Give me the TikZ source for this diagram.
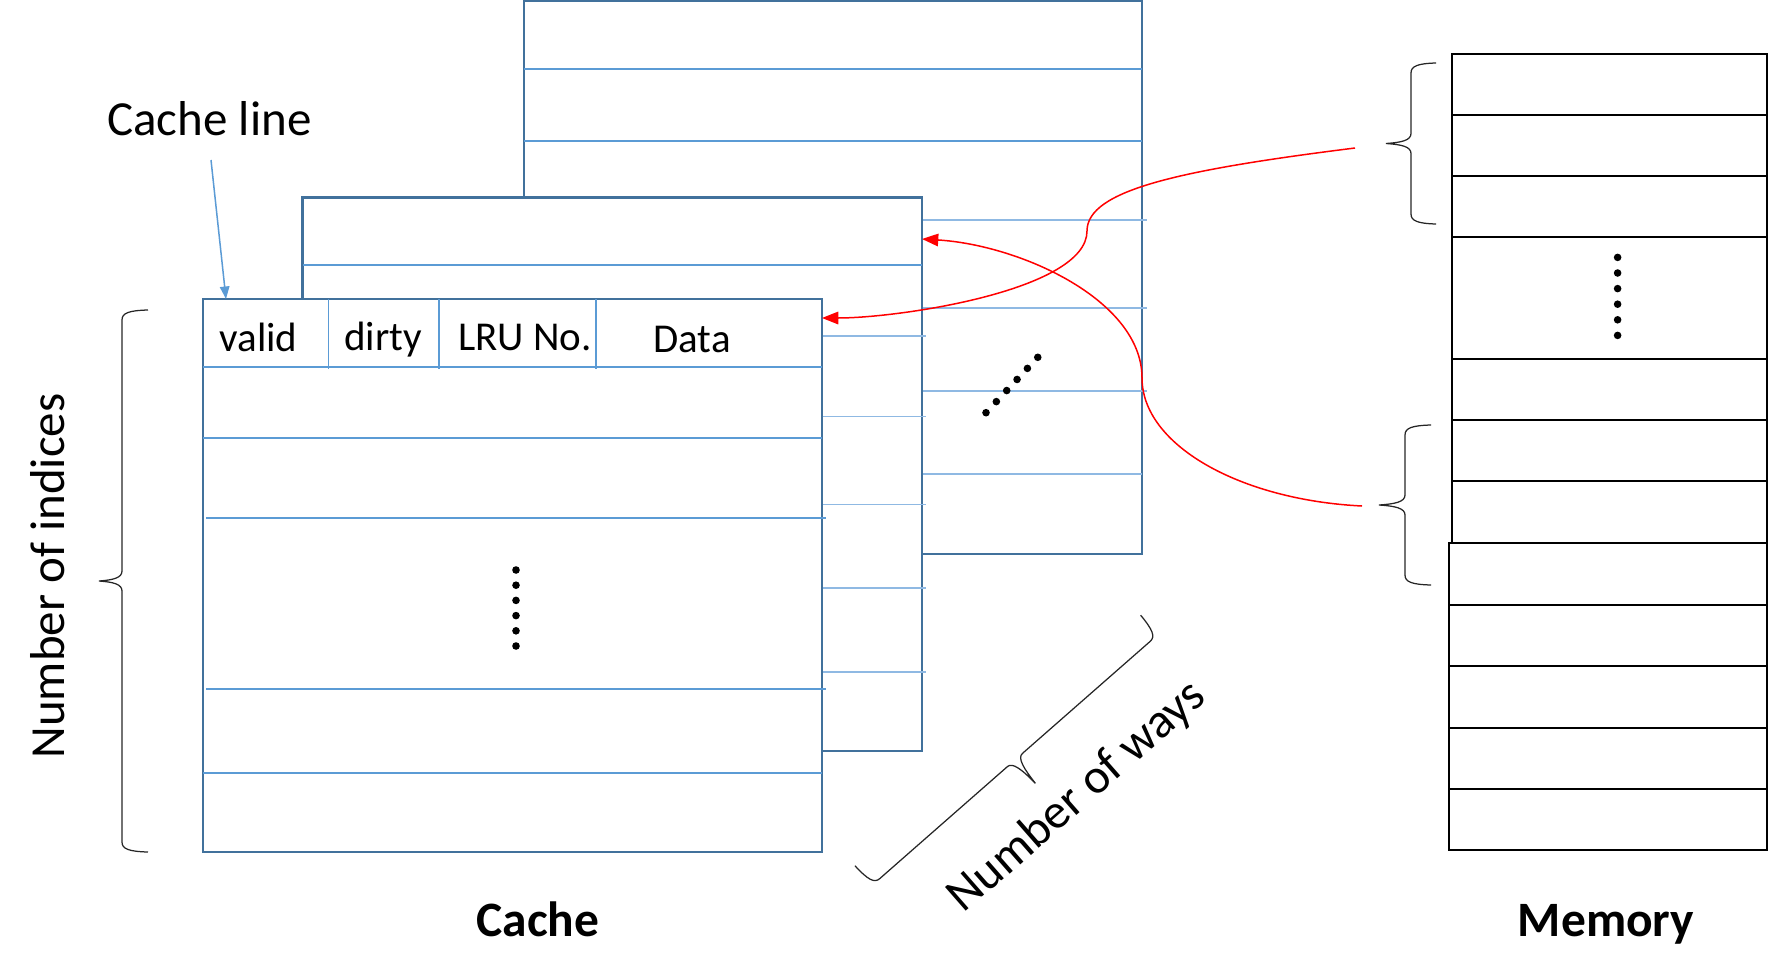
\documentclass[tikz,border=0pt]{standalone}
\usepackage{fontspec}
\setmainfont{Carlito}
\usetikzlibrary{arrows.meta,fit}
\definecolor{boxblue}{HTML}{41719C}
\definecolor{lineblue}{HTML}{5B9BD5}
\definecolor{lineblue2}{HTML}{8FB9E3}
\tikzset{
  pics/obrace/.style n args={3}{code={
    \draw[bracestyle] (0,-#3) .. controls (0.5,-7) and (3,0) .. (10,0)
      -- ({#1/2-10},0) .. controls ({#1/2-3},0) and ({#1/2-1},{#2*0.4}) .. ({#1/2},#2)
      .. controls ({#1/2+1},{#2*0.4}) and ({#1/2+3},0) .. ({#1/2+10},0)
      -- ({#1-10},0) .. controls ({#1-3},0) and ({#1-0.5},-7) .. (#1,-#3);
  }}
}
\begin{document}
\begin{tikzpicture}[x=0.4pt,y=-0.4pt,
  cbox/.style={draw=boxblue, line width=1pt, fill=white, inner sep=0pt, outer sep=0pt},
  memcell/.style={draw=black, line width=1pt, inner sep=0pt, outer sep=0pt},
  rowline/.style={draw=lineblue, line width=0.6pt},
  rowline2/.style={draw=lineblue2, line width=0.6pt},
  memline/.style={draw=black, line width=1pt},
  redarr/.style={draw=red, line width=0.6pt, -{Triangle[length=6.5pt,width=5pt]}},
  bluearr/.style={draw=lineblue, line width=0.6pt, -{Triangle[length=5pt,width=3.8pt]}},
  bracestyle/.style={draw=black!85, line width=0.5pt},
  lbl/.style={inner sep=0pt, font=\fontsize{19.6}{22}\selectfont},
  hdr/.style={inner sep=0pt, font=\fontsize{16.4}{19}\selectfont},
  ttl/.style={inner sep=0pt, font=\fontsize{19.8}{23}\selectfont\bfseries}
]
\useasboundingbox (0,0) rectangle (1770,979);

% ---- way 2 (back)
\node[cbox, fit={(524,1) (1142,554)}] (way2) {};
\foreach \y in {69,141} \draw[rowline] (524,\y) -- (1142,\y);
\foreach \y in {220,308,391} \draw[rowline2] (922,\y) -- (1147,\y);
\draw[rowline2] (922,474) -- (1142,474);

% ---- way 1 (middle)
\node[cbox, fit={(302.5,197.5) (922,751)}] (way1) {};
\draw[rowline] (302.5,265) -- (922,265);
\foreach \y in {336,416.5,504.6,588,672} \draw[rowline2] (822,\y) -- (926,\y);

% ---- way 0 (front)
\node[cbox, fit={(203,299) (822,852)}] (way0) {};
\draw[rowline] (203,367) -- (822,367);
\foreach \x in {328.5,439,596} \draw[rowline] (\x,299) -- (\x,369);
\foreach \y in {438,773} \draw[rowline] (203,\y) -- (822,\y);
\foreach \y in {518,689} \draw[rowline] (206,\y) -- (826,\y);

\node[hdr, anchor=base] (valid) at (258.5,351) {valid};
\node[hdr, anchor=base] (dirty) at (383,350) {dirty};
\node[hdr, anchor=base] (lru) at (525,350) {LRU No.};
\node[hdr, anchor=base] (data) at (692,352) {Data};

% dots
\foreach \i in {0,...,5} \fill (516,{570+\i*15.2}) circle[radius=3.8];
\foreach \i in {0,...,5} \fill ({986+\i*10.35},{412.7-\i*11.08}) circle[radius=3.8];

% ---- memory
\node[memcell, fit={(1452,54) (1767,543)}] (memtop) {};
\node[memcell, fit={(1449,543) (1767,850)}] (membot) {};
\foreach \y in {115,176,237,359,420,481} \draw[memline] (1452,\y) -- (1767,\y);
\foreach \y in {605,666,728,789} \draw[memline] (1449,\y) -- (1767,\y);
\foreach \i in {0,...,5} \fill (1617.6,{257.4+\i*15.6}) circle[radius=3.8];

% ---- braces
\pic[rotate=-90] at (122,310) {obrace={542}{23}{26}};
\pic[rotate=-90] at (1411,63) {obrace={161}{25}{25}};
\pic[rotate=-90] at (1405,425) {obrace={160}{26}{26}};
\pic[rotate=41.26] at (872.1,885.3) {obrace={380}{31}{26}};

% ---- labels
\node[lbl, anchor=base] (cacheline) at (209.4,135.5) {Cache line};
\node[lbl, anchor=base, rotate=90] (indices) at (64,576) {Number of indices};
\node[lbl, anchor=base, rotate=41.2] (ways) at (1086,807) {Number of ways};
\node[ttl, anchor=base] (cache) at (538,936) {Cache};
\node[ttl, anchor=base] (memory) at (1606,936) {Memory};

% ---- connectors
\coordinate (clsrc) at (211,160);
\coordinate (cltgt) at (226,299);
\draw[bluearr] (clsrc) -- (cltgt);

\coordinate (srcA) at (1355,148);
\coordinate (tgtA) at (822,318);
\draw[redarr] (srcA) .. controls (1180,170) and (1087,190) .. (1087,231)
  .. controls (1087,290) and (900,318) .. (tgtA);

\coordinate (srcB) at (1362,506);
\coordinate (tgtB) at (922,239);
\draw[redarr] (srcB) .. controls (1240,500) and (1142,445) .. (1142,378)
  .. controls (1142,300) and (1020,245) .. (tgtB);
\end{tikzpicture}
\end{document}
